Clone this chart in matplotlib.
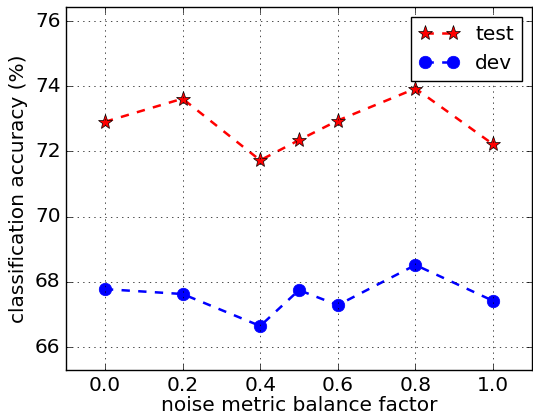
import matplotlib
matplotlib.use('Agg')
import matplotlib.pyplot as plt

plt.style.use('classic')

factors = [0.0, 0.2, 0.4, 0.5, 0.6, 0.8, 1.0]
test_acc = [72.91, 73.62, 71.73, 72.35, 72.95, 73.93, 72.22]
dev_acc = [67.78, 67.63, 66.65, 67.75, 67.29, 68.52, 67.42]

fig = plt.figure(figsize=(5.33, 4.17), dpi=100)
fig.patch.set_facecolor('white')
ax = fig.add_axes([0.124, 0.1127, 0.874, 0.8705])

ax.plot(factors, test_acc, 'r--*', linewidth=1.8, markersize=11, label='test')
ax.plot(factors, dev_acc, 'b--o', linewidth=1.8, markersize=9, markeredgecolor='b', label='dev')

ax.set_xlim(-0.1, 1.1)
ax.set_ylim(65.3, 76.43)
ax.set_xticks([0.0, 0.2, 0.4, 0.6, 0.8, 1.0])
ax.set_yticks([66, 68, 70, 72, 74, 76])
ax.tick_params(labelsize=14.5)
ax.grid(True)
ax.set_xlabel('noise metric balance factor', fontsize=14.5, labelpad=1)
ax.set_ylabel('classification accuracy (%)', fontsize=14.5)
ax.legend(loc='upper right', numpoints=2, fontsize=14.5, handlelength=2.0)

fig.savefig('out.png', dpi=100)
